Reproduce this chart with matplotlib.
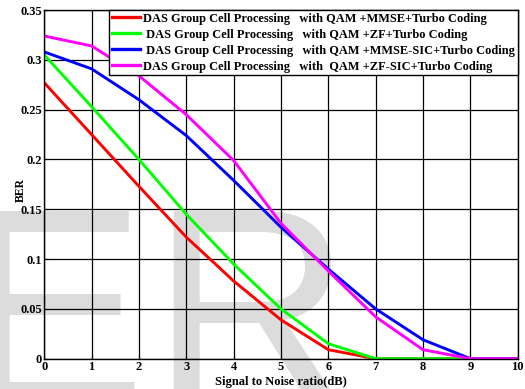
import matplotlib
matplotlib.use("Agg")
import matplotlib.pyplot as plt

# SNR (dB) and BER values
snr = [0, 1, 2, 3, 4, 5, 6, 7, 8, 9, 10]
ber_mmse = [0.277, 0.225, 0.173, 0.122, 0.078, 0.039, 0.009, 0.0, 0.0, 0.0, 0.0]
ber_zf = [0.305, 0.253, 0.200, 0.145, 0.095, 0.050, 0.015, 0.0, 0.0, 0.0, 0.0]
ber_mmse_sic = [0.308, 0.291, 0.260, 0.224, 0.179, 0.132, 0.090, 0.050, 0.019, 0.0, 0.0]
ber_zf_sic = [0.324, 0.314, 0.284, 0.245, 0.199, 0.136, 0.088, 0.042, 0.009, 0.0, 0.0]

labels = ["DAS Group Cell Processing   with QAM +MMSE+Turbo Coding",
          " DAS Group Cell Processing   with QAM +ZF+Turbo Coding",
          " DAS Group Cell Processing   with QAM +MMSE-SIC+Turbo Coding",
          "DAS Group Cell Processing   with  QAM +ZF-SIC+Turbo Coding"]
colors = ["#ff0000", "#00ff00", "#0000ff", "#ff00ff"]

plt.rcParams['font.family'] = 'Liberation Serif'
plt.rcParams['font.weight'] = 'bold'

fig = plt.figure(figsize=(5.25, 3.89), dpi=100)

# faint watermark letters in the background
fig.text(-0.076, -0.035, "E", fontsize=200, color="#dcdcdc", family="Liberation Sans",
         fontweight="normal", va="baseline", zorder=0)
fig.text(0.286, -0.035, "R", fontsize=200, color="#dcdcdc", family="Liberation Sans",
         fontweight="normal", va="baseline", zorder=0)

ax = fig.add_axes([0.0844, 0.078, 0.9016, 0.896])
ax.patch.set_alpha(0)
ax.set_zorder(1)

for y, c, lab in zip([ber_mmse, ber_zf, ber_mmse_sic, ber_zf_sic], colors, labels):
    ax.plot(snr, y, color=c, lw=2.1, label=lab)

ax.set_xlim(0, 10)
ax.set_ylim(0, 0.35)
ax.set_xticks(range(0, 11))
ax.set_yticks([0, 0.05, 0.1, 0.15, 0.2, 0.25, 0.3, 0.35])
ax.set_yticklabels(["0", "0.05", "0.1", "0.15", "0.2", "0.25", "0.3", "0.35"])
ax.grid(True, color="black", lw=0.9, ls="-")
ax.tick_params(direction="in", length=3, labelsize=9, pad=1.5)
for s in ax.spines.values():
    s.set_linewidth(1)
ax.set_xlabel("Signal to Noise ratio(dB)", fontsize=9, fontweight="bold", labelpad=2)
ax.set_ylabel("BER", fontsize=8.5, fontweight="bold")
ax.yaxis.set_label_coords(-0.037, 0.484)

leg = ax.legend(loc="upper right", fontsize=8.9, fancybox=False, framealpha=1,
                edgecolor="black", handlelength=2.25, borderpad=0.2,
                labelspacing=0.33, handletextpad=0.3, borderaxespad=0.0)
leg.get_frame().set_linewidth(1)
for h in leg.get_lines():
    h.set_linewidth(2.4)

fig.savefig("out.png", dpi=100)
